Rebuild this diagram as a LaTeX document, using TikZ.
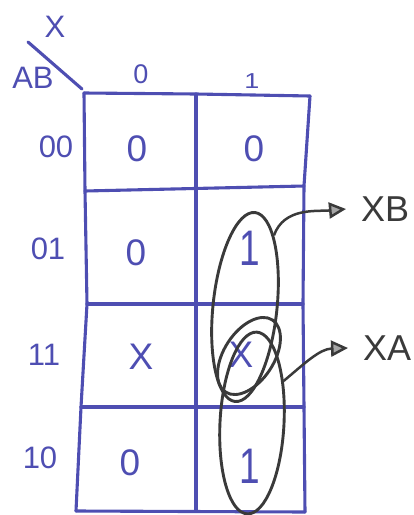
\documentclass[tikz,border=0pt]{standalone}
\usepackage{fontspec}
\setmainfont{Liberation Sans}
\usetikzlibrary{shapes.geometric,arrows.meta}
\definecolor{ink}{RGB}{78,78,178}
\definecolor{pencil}{RGB}{58,58,58}
\begin{document}
\begin{tikzpicture}[x=1pt,y=-1pt,
 grid/.style={ink, line width=3.1pt, line cap=round, line join=round},
 loopring/.style={draw=pencil, line width=2.9pt, ellipse, inner sep=0pt},
 cellval/.style={ink, font=\fontsize{37}{37}\selectfont, inner sep=0pt},
 rowlbl/.style={ink, font=\fontsize{31}{31}\selectfont, inner sep=0pt},
 collbl/.style={ink, font=\fontsize{27}{27}\selectfont, inner sep=0pt},
 outlbl/.style={pencil, font=\fontsize{36}{36}\selectfont, anchor=west, inner ysep=0pt, inner xsep=15pt},
 pointer/.style={pencil, line width=2.5pt, -{Triangle[length=17pt,width=16pt,fill=gray!70]}}]
\useasboundingbox (0,0) rectangle (414,515);
% grid
\draw[grid] (84,93) -- (196,94) -- (310,96);
\draw[grid] (84,93) -- (85,191) -- (87,304) -- (81,407) -- (76,511);
\draw[grid] (196,94) -- (196,511);
\draw[grid] (310,96) -- (304,186) -- (303,304) -- (304,407) -- (305,512);
\draw[grid] (85,191) -- (304,186);
\draw[grid] (87,304) -- (303,304);
\draw[grid] (81,407) -- (304,407);
\draw[grid] (76,511) -- (305,512);
\draw[grid] (28,42) -- (82,89);
% header labels
\node[ink, font=\fontsize{31}{31}\selectfont, inner sep=0pt] (vx) at (55,27) {X};
\node[ink, font=\fontsize{31}{31}\selectfont, inner sep=0pt] (vab) at (33,78) {AB};
\node[collbl] (c0) at (141,74) {0};
\node[collbl, yscale=0.8] (c1) at (252,81) {1};
% row labels
\node[rowlbl] (r00) at (56,147) {00};
\node[rowlbl] (r01) at (48,249) {01};
\node[rowlbl] (r11) at (44,355) {11};
\node[rowlbl] (r10) at (40,458) {10};
% cells
\node[cellval] (m0) at (137,149) {0};
\node[cellval] (m1) at (254,149) {0};
\node[cellval] (m4) at (136,253) {0};
\node[cellval, yscale=1.35] (m5) at (250,248) {1};
\node[cellval] (m12) at (141,357) {X};
\node[cellval] (m13) at (241,355) {X};
\node[cellval] (m8) at (130,463) {0};
\node[cellval, yscale=1.35] (m9) at (250,466) {1};
% groupings
\node[loopring, minimum width=64pt, minimum height=190pt, rotate=-6] (loopB) at (245,307) {};
\node[loopring, minimum width=64pt, minimum height=182pt, rotate=-3] (loopA) at (252,423) {};
\node[loopring, minimum width=50pt, minimum height=86pt, rotate=-33] (loopX) at (249,356) {};
% output labels
\node[outlbl] (xb) at (346,209) {XB};
\node[outlbl] (xa) at (348,348) {XA};
\draw[pointer] (loopB.74) to[out=70, in=185] (xb.west);
\draw[pointer] (loopA.56) to[out=40, in=182] (xa.west);
\end{tikzpicture}
\end{document}
